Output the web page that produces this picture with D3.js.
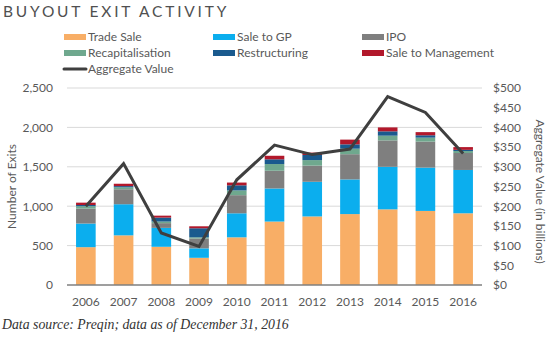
<!DOCTYPE html>
<html>
<head>
<meta charset="utf-8">
<script src="https://cdn.jsdelivr.net/npm/d3@7/dist/d3.min.js"></script>
<style>
  html, body { margin: 0; padding: 0; background: #fff; }
  svg { display: block; }
</style>
</head>
<body>
<svg id="chart" width="550" height="344"></svg>
<script>
// Buyout exits by year, split by exit route, with aggregate exit value ($bn)
const years = ["2006","2007","2008","2009","2010","2011","2012","2013","2014","2015","2016"];
const tradeSale      = [480, 630, 485, 345, 605, 805, 870, 900, 960, 940, 910];
const saleToGP       = [300, 395, 240, 120, 305, 420, 440, 440, 540, 550, 550];
const ipo            = [190, 190,  60, 125, 230, 225, 205, 320, 335, 330, 215];
const recap          = [ 30,  25,  20,  15,  60,  85,  70,  70,  60,  50,  25];
const restructuring  = [ 15,  15,  50, 115,  65,  60,  65,  55,  55,  30,  15];
const saleToMgmt     = [ 30,  30,  25,  25,  35,  45,  30,  60,  50,  40,  35];
const aggregateValue = [200, 308, 132,  98, 267, 355, 331, 345, 478, 438, 334];

const leftTicks  = [0, 500, 1000, 1500, 2000, 2500];
const rightTicks = [0, 50, 100, 150, 200, 250, 300, 350, 400, 450, 500];

const seriesNames  = ["Trade Sale", "Sale to GP", "IPO", "Recapitalisation", "Restructuring", "Sale to Management"];
const seriesValues = [tradeSale, saleToGP, ipo, recap, restructuring, saleToMgmt];
const seriesColors = ["#F8AE66", "#0BAEEE", "#7F7F7F", "#6FA88E", "#1A5A8E", "#B2182B"];
const lineColor = "#3F3F3F";

const svg = d3.select("#chart");
const font = "Lato, 'Open Sans', sans-serif";
const textColor = "#595959";

const margin = { left: 67, right: 482, top: 88, bottom: 285 };

const x = d3.scaleBand().domain(years).range([margin.left, margin.right])
  .paddingInner(0.48).paddingOuter(0.24);
const y = d3.scaleLinear().domain([0, 2500]).range([margin.bottom, margin.top]);
const y2 = d3.scaleLinear().domain([0, 500]).range([margin.bottom, margin.top]);

// Title
svg.append("text")
  .attr("x", 3).attr("y", 17)
  .attr("font-family", font).attr("font-size", 15.5).attr("font-weight", 400)
  .attr("letter-spacing", 2.8)
  .attr("fill", "#505050")
  .text("BUYOUT EXIT ACTIVITY");

// Gridlines
svg.append("g")
  .selectAll("line").data(leftTicks.filter(d => d > 0)).join("line")
  .attr("x1", margin.left).attr("x2", margin.right)
  .attr("y1", d => y(d)).attr("y2", d => y(d))
  .attr("stroke", "#D9D9D9").attr("stroke-width", 1);

// Stacked bars
const table = years.map((yr, i) => {
  const row = { year: yr };
  seriesNames.forEach((n, j) => row[n] = seriesValues[j][i]);
  return row;
});
const stacked = d3.stack().keys(seriesNames)(table);

svg.append("g").selectAll("g").data(stacked).join("g")
  .attr("fill", (d, i) => seriesColors[i])
  .selectAll("rect").data(d => d).join("rect")
  .attr("x", d => x(d.data.year))
  .attr("width", x.bandwidth())
  .attr("y", d => y(d[1]))
  .attr("height", d => y(d[0]) - y(d[1]));

// Baseline
svg.append("line")
  .attr("x1", margin.left).attr("x2", margin.right)
  .attr("y1", y(0)).attr("y2", y(0))
  .attr("stroke", "#7F7F7F").attr("stroke-width", 1.5);

// Aggregate value line
const line = d3.line()
  .x((d, i) => x(years[i]) + x.bandwidth() / 2)
  .y(d => y2(d));
svg.append("path")
  .datum(aggregateValue)
  .attr("d", line)
  .attr("fill", "none")
  .attr("stroke", lineColor)
  .attr("stroke-width", 3)
  .attr("stroke-linejoin", "miter");

// Left axis
const leftAxis = svg.append("g")
  .attr("transform", `translate(${margin.left - 14},0)`)
  .call(d3.axisLeft(y).tickValues(leftTicks).tickFormat(d3.format(",")).tickSize(0).tickPadding(0));
leftAxis.select(".domain").remove();
leftAxis.selectAll("text")
  .attr("font-family", font).attr("font-size", 12).attr("fill", textColor);

// Right axis
const rightAxis = svg.append("g")
  .attr("transform", `translate(${margin.right + 11},0)`)
  .call(d3.axisRight(y2).tickValues(rightTicks).tickFormat(d => "$" + d).tickSize(0).tickPadding(0));
rightAxis.select(".domain").remove();
rightAxis.selectAll("text")
  .attr("font-family", font).attr("font-size", 12).attr("fill", textColor);

// Bottom axis
const bottomAxis = svg.append("g")
  .attr("transform", `translate(0,${margin.bottom + 8})`)
  .call(d3.axisBottom(x).tickSize(0).tickPadding(4));
bottomAxis.select(".domain").remove();
bottomAxis.selectAll("text")
  .attr("font-family", font).attr("font-size", 12).attr("fill", textColor);

// Axis titles
svg.append("text")
  .attr("transform", `translate(16,${(margin.top + margin.bottom) / 2}) rotate(-90)`)
  .attr("text-anchor", "middle")
  .attr("font-family", font).attr("font-size", 12).attr("fill", textColor)
  .text("Number of Exits");

svg.append("text")
  .attr("transform", `translate(536,${(margin.top + margin.bottom) / 2 + 5}) rotate(90)`)
  .attr("text-anchor", "middle")
  .attr("font-family", font).attr("font-size", 12).attr("fill", textColor)
  .text("Aggregate Value (in billions)");

// Legend
const legendCols = [64, 213, 362];
const legendRows = [37, 53];
const legend = svg.append("g");
seriesNames.forEach((name, i) => {
  const cx = legendCols[i % 3];
  const cy = legendRows[Math.floor(i / 3)];
  legend.append("rect")
    .attr("x", cx).attr("y", cy - 3).attr("width", 22).attr("height", 6)
    .attr("fill", seriesColors[i]);
  legend.append("text")
    .attr("x", cx + 24).attr("y", cy + 4)
    .attr("font-family", font).attr("font-size", 12).attr("fill", textColor)
    .text(name);
});
legend.append("line")
  .attr("x1", 64).attr("x2", 86).attr("y1", 69).attr("y2", 69)
  .attr("stroke", lineColor).attr("stroke-width", 3).attr("stroke-linecap", "round");
legend.append("text")
  .attr("x", 88).attr("y", 73)
  .attr("font-family", font).attr("font-size", 12).attr("fill", textColor)
  .text("Aggregate Value");

// Source note
svg.append("text")
  .attr("x", 2).attr("y", 329)
  .attr("font-family", "'Liberation Serif', 'DejaVu Serif', serif")
  .attr("font-style", "italic").attr("font-size", 13.8).attr("fill", "#333")
  .text("Data source: Preqin; data as of December 31, 2016");
</script>
</body>
</html>
